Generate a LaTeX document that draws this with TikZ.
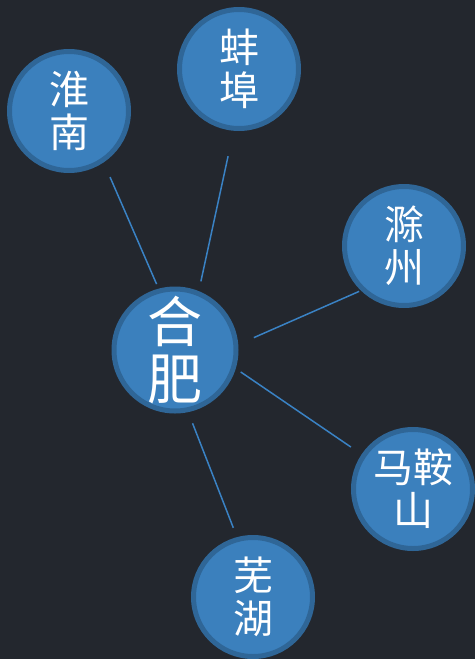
\documentclass[tikz,border=0pt]{standalone}
\usepackage{fontspec}
\newfontfamily\cjk{Noto Sans CJK SC}
\definecolor{bgdark}{HTML}{23272E}
\definecolor{cityfill}{HTML}{3B80BD}
\definecolor{cityring}{HTML}{2F6697}
\definecolor{linkblue}{HTML}{3A82C4}
\tikzset{
  city/.style={circle, fill=cityfill, draw=cityring, line width=5pt,
    minimum size=119pt, inner sep=0pt, text=white, align=center,
    font=\cjk\fontsize{40}{43}\selectfont},
  hub/.style={city, minimum size=122pt, font=\cjk\fontsize{55}{57}\selectfont},
  link/.style={linkblue, line width=1.5pt}
}
\begin{document}
\begin{tikzpicture}[x=1pt, y=-1pt]
      % Background
      \fill[bgdark] (0,0) rectangle (475,659);
      \useasboundingbox (0,0) rectangle (475,659);

      % Cities
      \node[hub] (hefei) at (175,350) {合\\肥};
      \node[city] (huainan) at (69,111) {淮\\南};
      \node[city] (bengbu) at (239,69) {蚌\\埠};
      \node[city] (chuzhou) at (404,246) {滁\\州};
      \node[city] (maanshan) at (413,489) {马鞍\\山};
      \node[city] (wuhu) at (253,597) {芜\\湖};

      % Links
      \draw[link, shorten <=16pt, shorten >=5pt] (huainan.-56) -- (hefei.105);
      \draw[link, shorten <=26pt, shorten >=10pt] (bengbu.-95) -- (hefei.68);
      \draw[link, shorten <=2pt, shorten >=17pt] (chuzhou.-134) -- (hefei.5);
      \draw[link, shorten <=13pt, shorten >=6pt] (maanshan.146) -- (hefei.-17);
      \draw[link, shorten <=10pt, shorten >=12pt] (wuhu.105) -- (hefei.-78);
  \end{tikzpicture}
\end{document}
